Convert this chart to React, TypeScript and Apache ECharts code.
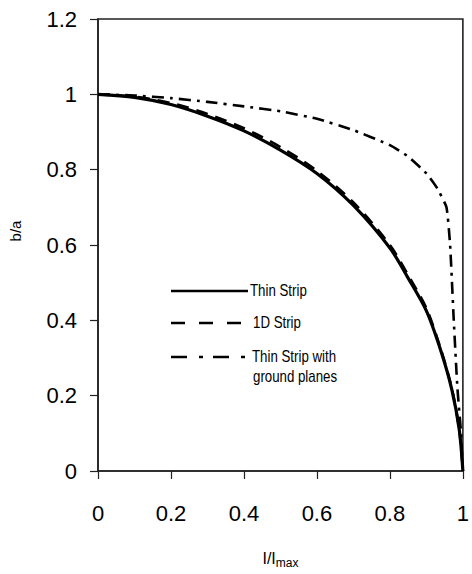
import React, { useEffect, useRef } from "react";
import * as echarts from "echarts";

const xTicks = [0, 0.2, 0.4, 0.6, 0.8, 1];
const yTicks = [0, 0.2, 0.4, 0.6, 0.8, 1, 1.2];

const thinStripX = [0, 0.1, 0.2, 0.3, 0.4, 0.5, 0.6, 0.7, 0.8, 0.85, 0.9, 0.94, 0.97, 0.99, 1.0];
const thinStripY = [1.0, 0.992, 0.973, 0.942, 0.903, 0.852, 0.79, 0.705, 0.592, 0.512, 0.425, 0.318, 0.215, 0.11, 0];

const strip1DX = [0, 0.1, 0.2, 0.3, 0.4, 0.5, 0.6, 0.7, 0.8, 0.85, 0.9, 0.94, 0.97, 0.99, 1.0];
const strip1DY = [1.0, 0.994, 0.977, 0.948, 0.91, 0.86, 0.797, 0.713, 0.6, 0.52, 0.432, 0.322, 0.218, 0.11, 0];

const groundX = [0, 0.1, 0.2, 0.3, 0.4, 0.5, 0.6, 0.7, 0.8, 0.85, 0.9, 0.93, 0.955, 0.965, 0.975, 0.985, 0.995, 1.0];
const groundY = [1.0, 0.997, 0.99, 0.98, 0.968, 0.955, 0.935, 0.905, 0.865, 0.835, 0.79, 0.75, 0.7, 0.6, 0.4, 0.22, 0.1, 0];

const legendNames = ["Thin Strip", "1D Strip", "Thin Strip with", "ground planes"];
const yTitle = "b/a";

const zip = (xs: number[], ys: number[]) => xs.map((x, i) => [x, ys[i]]);

export default function App() {
  const ref = useRef<HTMLDivElement>(null);
  useEffect(() => {
    const chart = echarts.init(ref.current!, null, { renderer: "svg" });
    const font = "'Liberation Sans', Arial, Helvetica, sans-serif";
    const legendText = (text: string, x: number, y: number) => ({
      type: "text",
      x,
      y,
      scaleX: 0.83,
      style: { text, fontFamily: font, fontSize: 16, fill: "#000", verticalAlign: "middle" },
    });
    chart.setOption({
      animation: false,
      backgroundColor: "#fff",
      grid: {
        left: 98,
        top: 19,
        right: 4,
        bottom: 100,
        show: true,
        borderColor: "#222",
        borderWidth: 1.6,
      },
      xAxis: {
        type: "value",
        min: 0,
        max: 1,
        interval: 0.2,
        name: "{a|I/I}{b|max}",
        nameLocation: "middle",
        nameGap: 77,
        nameTextStyle: {
          rich: {
            a: { fontFamily: font, fontSize: 16, color: "#000" },
            b: { fontFamily: font, fontSize: 12, color: "#000", padding: [9, 0, 0, 0] },
          },
        },
        axisLine: { show: true, onZero: false, lineStyle: { color: "#222", width: 1.6 } },
        axisTick: { show: true, inside: false, length: 8, lineStyle: { color: "#222", width: 1.2 } },
        axisLabel: { fontFamily: font, fontSize: 22, color: "#000", margin: 31 },
        splitLine: { show: false },
      },
      yAxis: {
        type: "value",
        min: 0,
        max: 1.2,
        interval: 0.2,
        axisLine: { show: true, onZero: false, lineStyle: { color: "#222", width: 1.6 } },
        axisTick: { show: true, inside: false, length: 8, lineStyle: { color: "#222", width: 1.2 } },
        axisLabel: {
          fontFamily: font,
          fontSize: 22,
          color: "#000",
          margin: 21,
          formatter: (v: number) => String(Math.round(v * 10) / 10),
        },
        splitLine: { show: false },
      },
      series: [
        {
          name: legendNames[0],
          type: "line",
          data: zip(thinStripX, thinStripY),
          symbol: "none",
          smooth: 0.3,
          lineStyle: { color: "#000", width: 3.2 },
        },
        {
          name: legendNames[1],
          type: "line",
          data: zip(strip1DX, strip1DY),
          symbol: "none",
          smooth: 0.3,
          lineStyle: { color: "#000", width: 2.6, type: [12, 8] },
        },
        {
          name: legendNames[2],
          type: "line",
          data: zip(groundX, groundY),
          symbol: "none",
          smooth: 0.15,
          lineStyle: { color: "#000", width: 2.6, type: [12, 6, 3, 6] },
        },
      ],
      graphic: [
        {
          type: "text",
          x: 15,
          y: 231,
          rotation: Math.PI / 2,
          style: { text: yTitle, fontFamily: font, fontSize: 15, fill: "#000", align: "center", verticalAlign: "middle" },
        },
        { type: "line", shape: { x1: 171, y1: 291, x2: 248, y2: 291 }, style: { stroke: "#000", lineWidth: 2.6 } },
        legendText(legendNames[0], 250, 291),
        { type: "line", shape: { x1: 171, y1: 323, x2: 243, y2: 323 }, style: { stroke: "#000", lineWidth: 2.6, lineDash: [14, 14] } },
        legendText(legendNames[1], 253, 323),
        { type: "line", shape: { x1: 171, y1: 357, x2: 246, y2: 357 }, style: { stroke: "#000", lineWidth: 2.6, lineDash: [16, 12, 4, 10] } },
        legendText(legendNames[2], 252, 357),
        legendText(legendNames[3], 253, 377),
      ],
    });
    return () => chart.dispose();
  }, []);
  return <div ref={ref} style={{ width: 472, height: 574, position: "absolute", left: 0, top: 0 }} />;
}
